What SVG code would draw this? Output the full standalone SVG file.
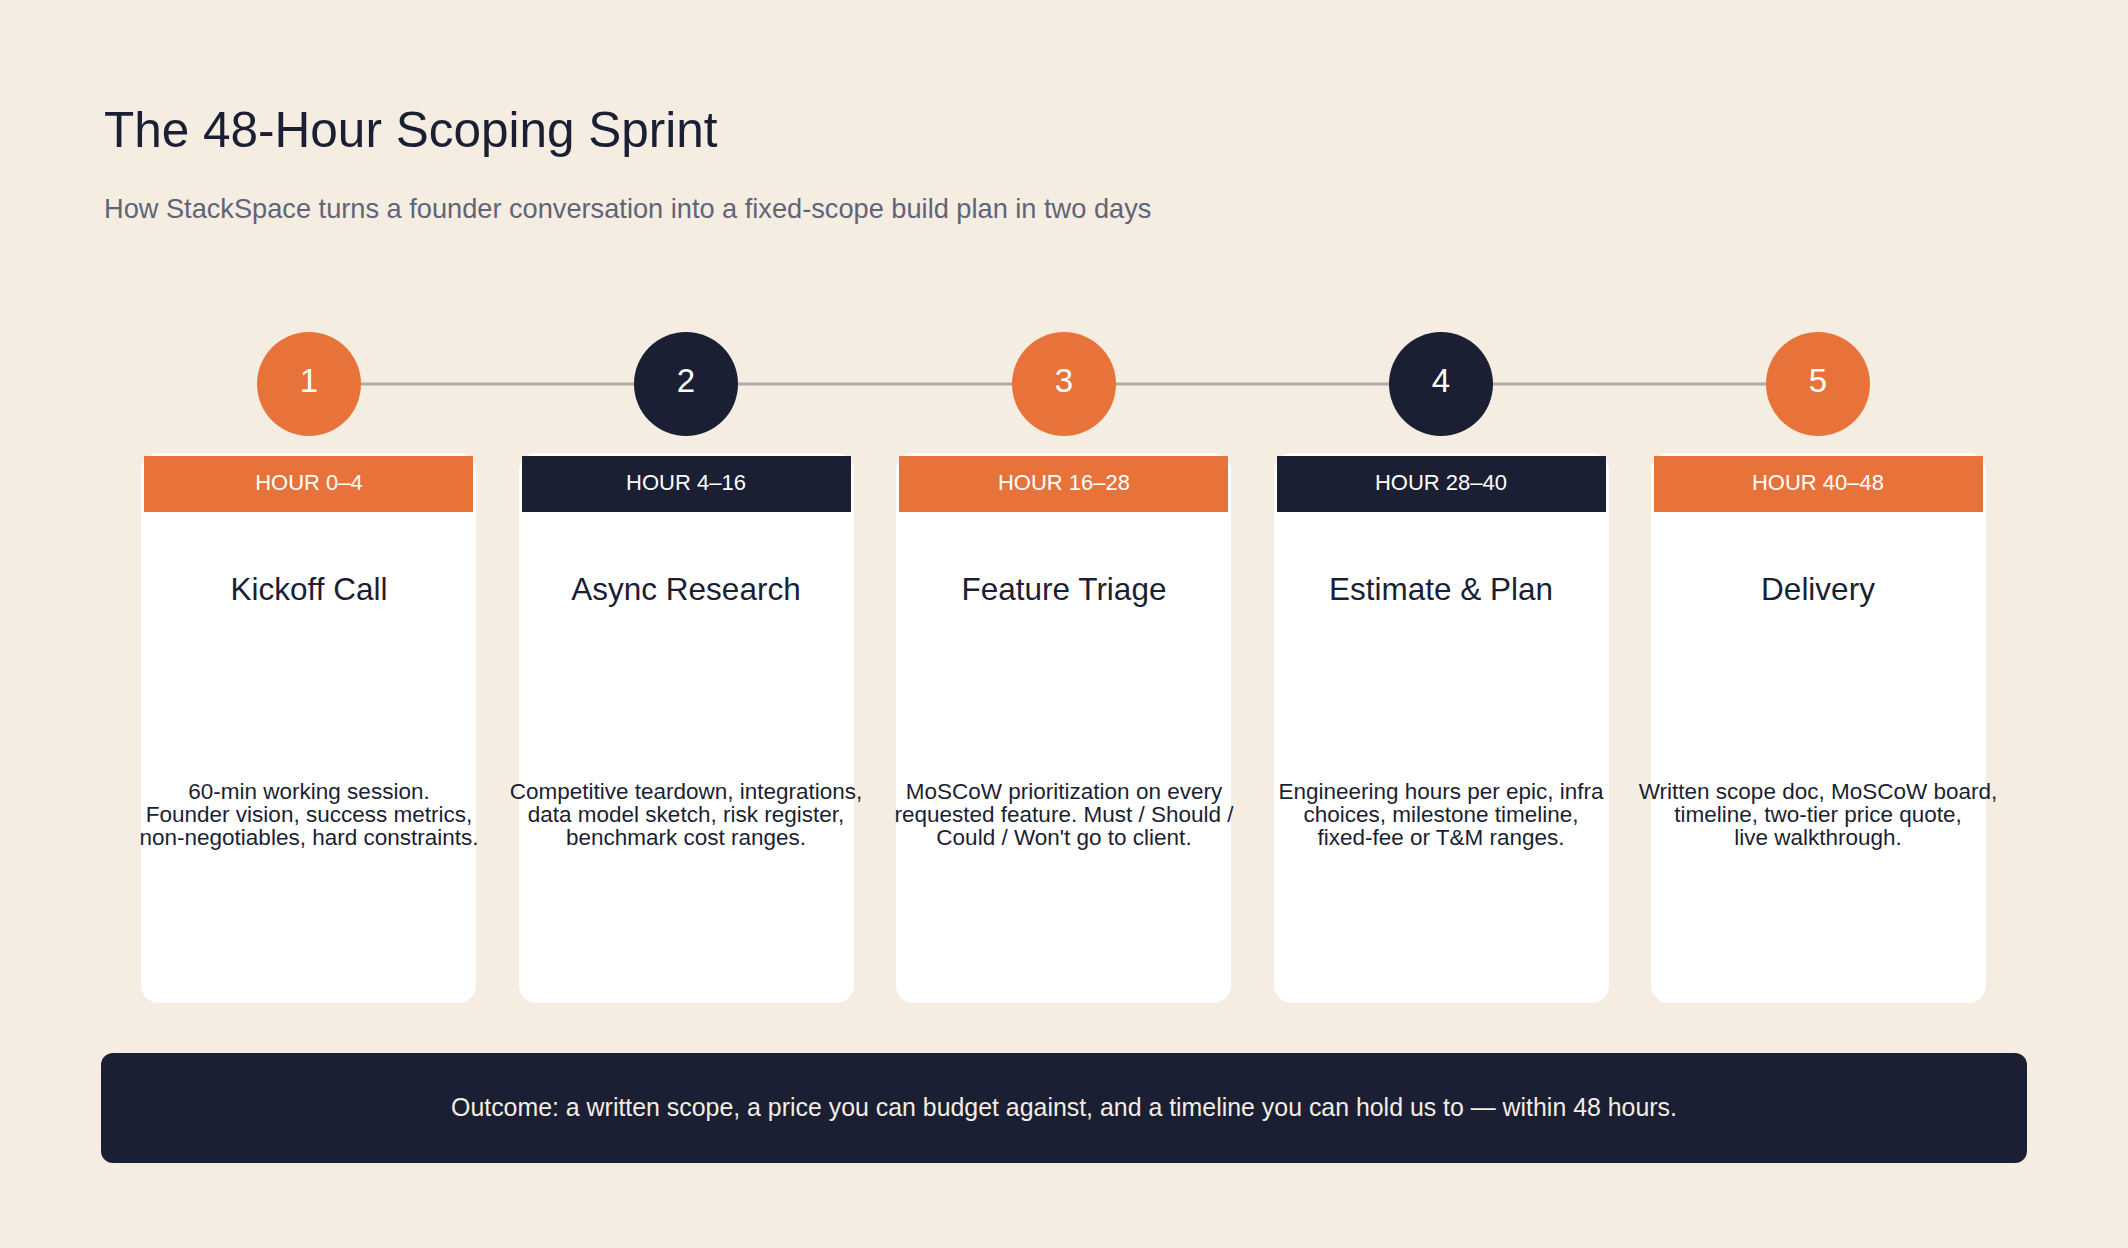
<svg xmlns="http://www.w3.org/2000/svg" width="2128" height="1248" viewBox="0 0 2128 1248">
<style>
.bg{fill:#f5ede1}
.title{font-family:"Liberation Sans",Arial,sans-serif;font-size:49.5px;fill:#1b1f33}
.sub{font-family:"Liberation Sans",Arial,sans-serif;font-size:27.2px;fill:#5f6577}
.num{font-family:"Liberation Sans",Arial,sans-serif;font-size:33px;fill:#ffffff;text-anchor:middle}
.card{fill:#ffffff}
.hdr{font-family:"Liberation Sans",Arial,sans-serif;font-size:22px;fill:#ffffff;text-anchor:middle}
.name{font-family:"Liberation Sans",Arial,sans-serif;font-size:31.5px;fill:#1b1f33;text-anchor:middle}
.desc{font-family:"Liberation Sans",Arial,sans-serif;font-size:22.5px;fill:#1b1f33;text-anchor:middle}
.out{font-family:"Liberation Sans",Arial,sans-serif;font-size:24.9px;fill:#f5ede1;text-anchor:middle}
.or{fill:#e8733a}
.nv{fill:#1b1f33}
</style>
<rect class="bg" x="0" y="0" width="2128" height="1248"/>
<text class="title" x="104" y="147">The 48-Hour Scoping Sprint</text>
<text class="sub" x="104" y="218">How StackSpace turns a founder conversation into a fixed-scope build plan in two days</text>
<g id="connectors">
<line x1="309" y1="384" x2="1818" y2="384" stroke="#b0aca5" stroke-width="3"/>
</g>
<g id="step1">
<circle class="or" cx="309" cy="384" r="52"/>
<text class="num" x="309" y="392">1</text>
<rect class="card" x="141" y="453" width="335" height="550" rx="18"/>
<rect class="or" x="144" y="456" width="329" height="56"/>
<text class="hdr" x="309" y="490">HOUR 0–4</text>
<text class="name" x="309" y="600">Kickoff Call</text>
<text class="desc" x="309" y="799">60-min working session.</text>
<text class="desc" x="309" y="822">Founder vision, success metrics,</text>
<text class="desc" x="309" y="845">non-negotiables, hard constraints.</text>
</g>
<g id="step2">
<circle class="nv" cx="686" cy="384" r="52"/>
<text class="num" x="686" y="392">2</text>
<rect class="card" x="519" y="453" width="335" height="550" rx="18"/>
<rect class="nv" x="522" y="456" width="329" height="56"/>
<text class="hdr" x="686" y="490">HOUR 4–16</text>
<text class="name" x="686" y="600">Async Research</text>
<text class="desc" x="686" y="799">Competitive teardown, integrations,</text>
<text class="desc" x="686" y="822">data model sketch, risk register,</text>
<text class="desc" x="686" y="845">benchmark cost ranges.</text>
</g>
<g id="step3">
<circle class="or" cx="1064" cy="384" r="52"/>
<text class="num" x="1064" y="392">3</text>
<rect class="card" x="896" y="453" width="335" height="550" rx="18"/>
<rect class="or" x="899" y="456" width="329" height="56"/>
<text class="hdr" x="1064" y="490">HOUR 16–28</text>
<text class="name" x="1064" y="600">Feature Triage</text>
<text class="desc" x="1064" y="799">MoSCoW prioritization on every</text>
<text class="desc" x="1064" y="822">requested feature. Must / Should /</text>
<text class="desc" x="1064" y="845">Could / Won't go to client.</text>
</g>
<g id="step4">
<circle class="nv" cx="1441" cy="384" r="52"/>
<text class="num" x="1441" y="392">4</text>
<rect class="card" x="1274" y="453" width="335" height="550" rx="18"/>
<rect class="nv" x="1277" y="456" width="329" height="56"/>
<text class="hdr" x="1441" y="490">HOUR 28–40</text>
<text class="name" x="1441" y="600">Estimate &amp; Plan</text>
<text class="desc" x="1441" y="799">Engineering hours per epic, infra</text>
<text class="desc" x="1441" y="822">choices, milestone timeline,</text>
<text class="desc" x="1441" y="845">fixed-fee or T&amp;M ranges.</text>
</g>
<g id="step5">
<circle class="or" cx="1818" cy="384" r="52"/>
<text class="num" x="1818" y="392">5</text>
<rect class="card" x="1651" y="453" width="335" height="550" rx="18"/>
<rect class="or" x="1654" y="456" width="329" height="56"/>
<text class="hdr" x="1818" y="490">HOUR 40–48</text>
<text class="name" x="1818" y="600">Delivery</text>
<text class="desc" x="1818" y="799">Written scope doc, MoSCoW board,</text>
<text class="desc" x="1818" y="822">timeline, two-tier price quote,</text>
<text class="desc" x="1818" y="845">live walkthrough.</text>
</g>
<g id="outcome">
<rect class="nv" x="101" y="1053" width="1926" height="110" rx="12"/>
<text class="out" x="1064" y="1116">Outcome: a written scope, a price you can budget against, and a timeline you can hold us to — within 48 hours.</text>
</g>
</svg>
